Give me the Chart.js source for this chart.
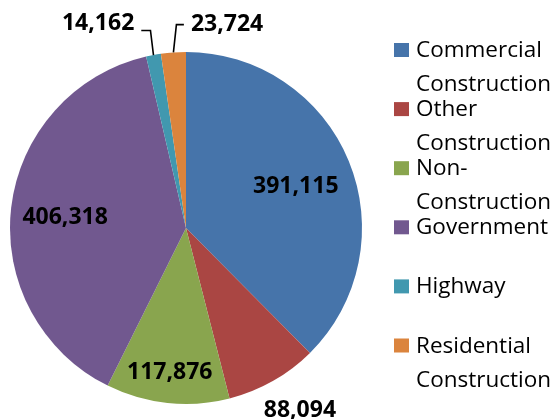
<!DOCTYPE html>
<html>
<head>
<meta charset="utf-8">
<script src="https://cdn.jsdelivr.net/npm/chart.js@4/dist/chart.umd.min.js"></script>
<style>
  html, body { margin: 0; padding: 0; background: #fff; }
  #wrap { width: 558px; height: 419px; position: relative; }
</style>
</head>
<body>
<div id="wrap"><canvas id="pie"></canvas></div>
<script>
// --- data ---
const categories = ['Commercial Construction', 'Other Construction', 'Non-Construction', 'Government', 'Highway', 'Residential Construction'];
const values = [391115, 88094, 117876, 406318, 14162, 23724];
const colors = ['#4674AA', '#AA4643', '#89A54E', '#71588F', '#4198AF', '#DB843D'];

// where each value label sits, relative to its slice (radius factor, angle shift in degrees)
const labelPlacement = [
    { r: 0.67, da: 1 },
    { r: 1.216, da: -2.6 },
    { r: 0.82, da: 0.4 },
    { r: 0.69, da: -1 },
    { r: 1.27, da: -12.5, leader: -1, lineDy: 8 },
    { r: 1.19, da: 15.4, leader: 1, lineDy: 2 }
];

const labelFont = 'bold 23px "Open Sans"';
const legendFont = '22.5px "Open Sans"';

const fmt = v => v.toLocaleString('en-US');

// split a category name into lines that fit the legend column
function wrapText(ctx, text, maxW) {
    const words = text.replace(/-/g, '- ').split(' ').filter(w => w);
    const lines = [];
    let cur = '';
    words.forEach(w => {
        const sep = cur === '' || cur.endsWith('-') ? '' : ' ';
        const test = cur + sep + w;
        if (cur && ctx.measureText(test).width > maxW) {
            lines.push(cur);
            cur = w;
        } else {
            cur = test;
        }
    });
    if (cur) lines.push(cur);
    return lines;
}

const valueLabels = {
    id: 'valueLabels',
    afterDatasetsDraw(chart) {
        const ctx = chart.ctx;
        const meta = chart.getDatasetMeta(0);
        ctx.save();
        ctx.font = labelFont;
        ctx.fillStyle = '#000';
        ctx.textAlign = 'center';
        ctx.textBaseline = 'alphabetic';
        meta.data.forEach((arc, i) => {
            const p = labelPlacement[i];
            const R = arc.outerRadius;
            const mid = (arc.startAngle + arc.endAngle) / 2;
            const a = mid + p.da * Math.PI / 180;
            const x = arc.x + Math.cos(a) * R * p.r;
            const y = arc.y + Math.sin(a) * R * p.r;
            const text = fmt(values[i]);
            ctx.fillText(text, x, y + 8);
            if (p.leader) {
                const w = ctx.measureText(text).width;
                const ex = arc.x + Math.cos(mid) * R;
                const ey = arc.y + Math.sin(mid) * R;
                const ly = y + p.lineDy;
                const sx = p.leader < 0 ? x + w / 2 + 7 : x - w / 2 - 7;
                ctx.beginPath();
                ctx.lineWidth = 1.6;
                ctx.strokeStyle = '#000';
                ctx.moveTo(sx, ly);
                ctx.lineTo(ex + 3 * p.leader, ly);
                ctx.lineTo(ex, ey);
                ctx.stroke();
            }
        });
        ctx.restore();
    }
};

const sideLegend = {
    id: 'sideLegend',
    afterDraw(chart) {
        const ctx = chart.ctx;
        ctx.save();
        ctx.font = legendFont;
        ctx.fillStyle = '#000';
        ctx.textBaseline = 'alphabetic';
        categories.forEach((name, i) => {
            const base = 57 + i * 59.1;
            ctx.fillStyle = colors[i];
            ctx.fillRect(394, base - 14, 15, 14);
            ctx.fillStyle = '#000';
            wrapText(ctx, name, 140).forEach((line, j) => {
                ctx.fillText(line, 416, base + j * 34);
            });
        });
        ctx.restore();
    }
};

new Chart(document.getElementById('pie'), {
    type: 'pie',
    data: {
        labels: categories,
        datasets: [{
            data: values,
            backgroundColor: colors,
            borderWidth: 0
        }]
    },
    options: {
        responsive: true,
        maintainAspectRatio: false,
        animation: false,
        layout: { padding: { left: 10, right: 196, top: 52, bottom: 15 } },
        plugins: {
            legend: { display: false },
            tooltip: { enabled: false }
        }
    },
    plugins: [valueLabels, sideLegend]
});
</script>
</body>
</html>
